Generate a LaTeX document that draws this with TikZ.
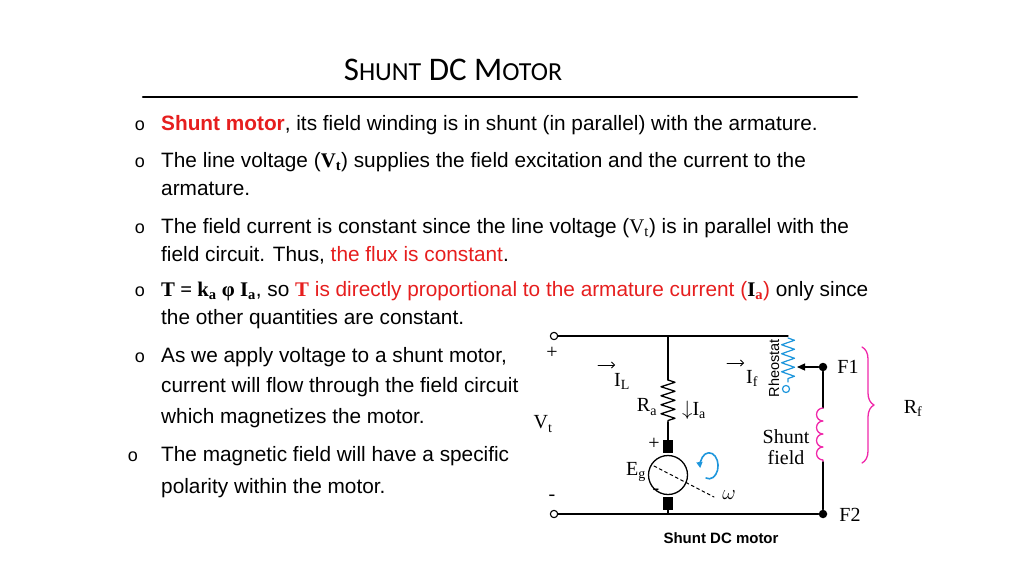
\documentclass[tikz,border=0pt]{standalone}
\usepackage{fontspec}
\setmainfont{Liberation Sans}
\newfontfamily\serifrm{Liberation Serif}
\newfontfamily\titlefont{Carlito}
\usetikzlibrary{arrows.meta,decorations.pathmorphing,decorations.pathreplacing}
\definecolor{redtxt}{RGB}{230,30,30}
\definecolor{bluew}{RGB}{30,150,220}
\definecolor{pinkw}{RGB}{240,40,170}
\tikzset{
  bullet/.style={anchor=west,font=\fontsize{20.8}{24}\selectfont,inner sep=0pt},
  mark o/.style={anchor=center,font=\fontsize{18}{20}\selectfont,inner sep=0pt},
  wire/.style={line width=1.3pt},
  lbl/.style={font=\serifrm\fontsize{20}{21}\selectfont,inner sep=0pt},
  term/.style={circle,draw,line width=1.1pt,fill=white,inner sep=2.6pt},
  dot/.style={circle,fill=black,inner sep=3pt},
}
\begin{document}
\begin{tikzpicture}[line cap=round,line join=round,x=1pt,y=-1pt]
  \useasboundingbox (0,0) rectangle (1024,576);
  % title
  \node[font=\titlefont\fontsize{33}{36}\selectfont] (title) at (453,70) {S{\fontsize{26}{30}\selectfont HUNT} DC M{\fontsize{26}{30}\selectfont OTOR}};
  \draw[line width=2.2pt] (143,97) -- (857,97);
  % bullets
  \foreach \y in {125,162,228,291,357}
    \node[mark o] at (140,\y+1) {o};
  \foreach \y in {456} \node[mark o] at (133,\y+1) {o};
  \node[bullet] (b1) at (161,125) {\textcolor{redtxt}{\bfseries Shunt motor}, its field winding is in shunt (in parallel) with the armature.};
  \node[bullet] (b2) at (161,162) {The line voltage ({\serifrm\bfseries V\textsubscript{t}}) supplies the field excitation and the current to the};
  \node[bullet] (b2b) at (161,189) {armature.};
  \node[bullet] (b3) at (161,228) {The field current is constant since the line voltage ({\serifrm V\textsubscript{t}}) is in parallel with the};
  \node[bullet] (b3b) at (161,255) {field circuit. Thus, \textcolor{redtxt}{the flux is constant}.};
  \node[bullet] (b4) at (161,291) {{\serifrm\bfseries T = k\textsubscript{a} φ I\textsubscript{a}}, so \textcolor{redtxt}{{\serifrm\bfseries T} is directly proportional to the armature current (}{\serifrm\bfseries I\textsubscript{\textcolor{redtxt}{a}}}\textcolor{redtxt}{)} only since};
  \node[bullet] (b4b) at (161,319) {the other quantities are constant.};
  \node[bullet] (b5) at (161,357) {As we apply voltage to a shunt motor,};
  \node[bullet] (b5b) at (161,387) {current will flow through the field circuit};
  \node[bullet] (b5c) at (161,418) {which magnetizes the motor.};
  \node[bullet] (b6) at (161,456) {The magnetic field will have a specific};
  \node[bullet] (b6b) at (161,488) {polarity within the motor.};
  % circuit
  \coordinate (tj) at (668,336);
  \coordinate (bj) at (668,514);
  \coordinate (rtop) at (788,336);
  \node[term] (tp) at (554,336) {};
  \node[term] (tn) at (554,514) {};
  \node[dot] (f1) at (823,367) {};
  \node[dot] (f2) at (823,514) {};
  \draw[wire] (tp) -- (rtop);
  \draw[wire] (tn) -- (f2);
  \draw[wire] (tj) -- (668,380);
  \draw[wire,decorate,decoration={zigzag,segment length=9pt,amplitude=7pt}] (668,380) -- (668,422);
  \draw[wire] (668,422) -- (668,440);
  \fill (663,440) rectangle (673,453);
  \fill (663,497) rectangle (673,510);
  \draw[wire] (668,510) -- (bj);
  \node[circle,draw,line width=1.3pt,minimum size=39pt,inner sep=0pt] (mot) at (668,475) {};
  \draw[dashed,line width=1pt] (654,466) -- (714,497);
  \draw[bluew,line width=1.6pt,-{Triangle[length=6pt,width=6pt]}] (706,478) arc[start angle=110,end angle=-190,x radius=9,y radius=13];
  % rheostat
  \draw[bluew,line width=1.2pt,decorate,decoration={zigzag,segment length=9pt,amplitude=6.5pt}] (788,338) -- (788,382);
  \node[circle,draw=bluew,line width=1.2pt,inner sep=2.5pt] (rh) at (786,389) {};
  \node[rotate=90,font=\fontsize{14.5}{16}\selectfont,inner sep=0pt] (rhtxt) at (774,368) {Rheostat};
  \draw[wire,-{Triangle[length=8pt,width=7pt]}] (f1) -- (797,367);
  % shunt field
  \draw[wire] (f1) -- (823,408);
  \draw[pinkw,line width=1.3pt] (823,408) arc[start angle=-90,end angle=-270,radius=6.5]
    arc[start angle=-90,end angle=-270,radius=6.5]
    arc[start angle=-90,end angle=-270,radius=6.5]
    arc[start angle=-90,end angle=-270,radius=6.5] -- (823,462);
  \draw[wire] (823,462) -- (f2);
  \draw[pinkw,line width=1.3pt,decorate,decoration={brace,amplitude=12pt}] (862,347) -- (862,463);
  % labels
  \node[lbl] (vt) at (543,424) {V\textsubscript{t}};
  \node[lbl] (plus) at (552,353) {+};
  \node[lbl] (minus) at (552,498) {-};
  \node[lbl] (il) at (622,381) {I\textsubscript{L}};
  \draw[line width=0.8pt,-{Straight Barb[length=3pt]}] (598,365) -- (615,365);
  \node[lbl] (if) at (752,378) {I\textsubscript{f}};
  \draw[line width=0.8pt,-{Straight Barb[length=3pt]}] (727,363) -- (744,363);
  \node[lbl] (ra) at (647,407) {R\textsubscript{a}};
  \node[lbl] (ia) at (694,410) {$\downarrow$I\textsubscript{a}};
  \node[lbl] (eg) at (636,472) {E\textsubscript{g}};
  \node[lbl] (ep) at (654,444) {+};
  \node[lbl] (em) at (656,492) {-};
  \node[lbl] (om) at (729,495) {$\omega$};
  \node[lbl,align=center] (sf) at (786,447) {Shunt\\field};
  \node[lbl] (f1t) at (848,367) {F1};
  \node[lbl] (f2t) at (850,515) {F2};
  \node[lbl] (rf) at (913,408) {R\textsubscript{f}};
  \node[font=\bfseries\fontsize{15}{16}\selectfont] (cap) at (721,538) {Shunt DC motor};
\end{tikzpicture}
\end{document}
